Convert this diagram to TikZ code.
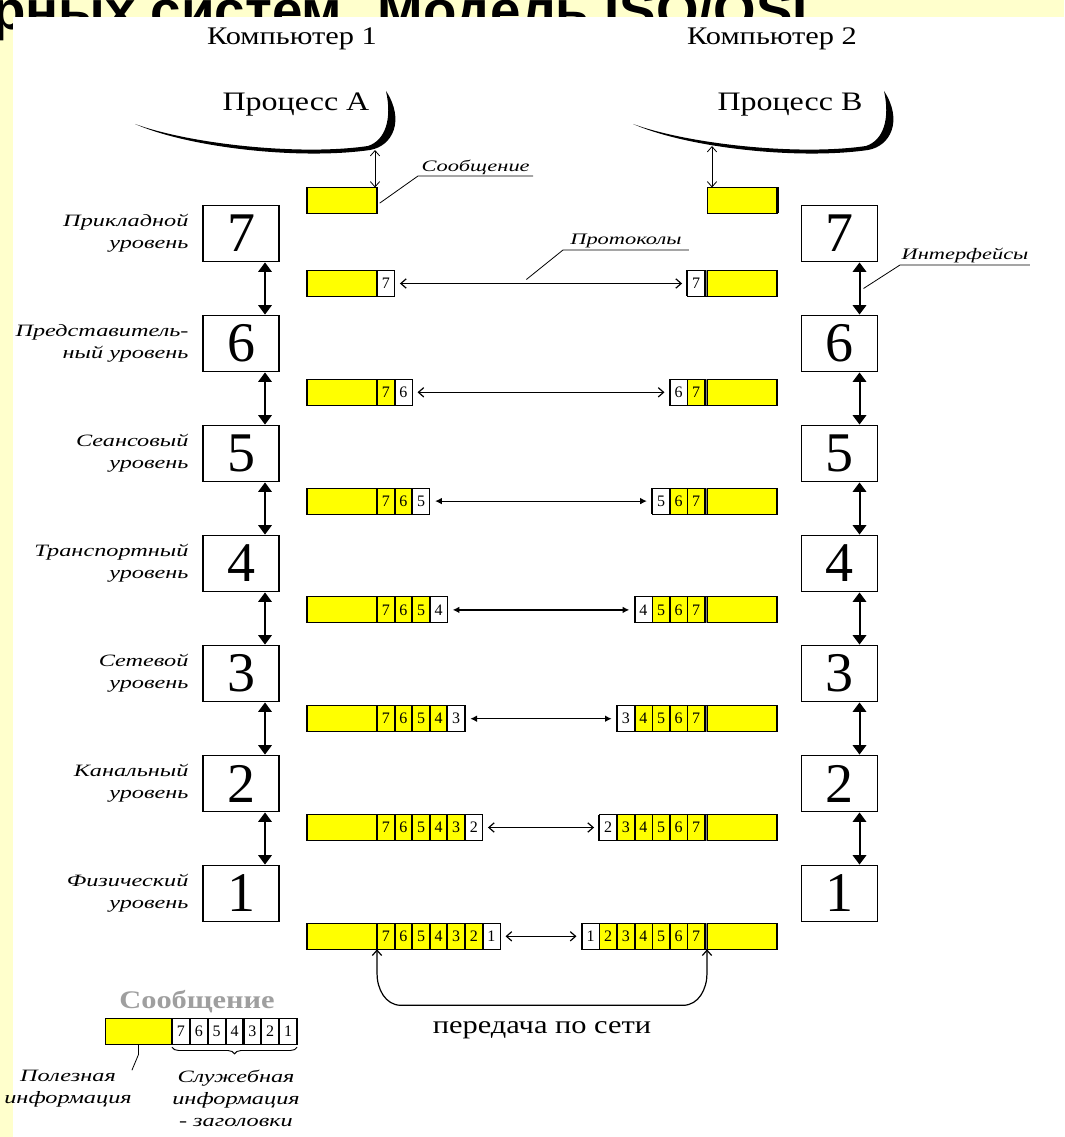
\documentclass[tikz,border=0pt]{standalone}
\usepackage{fontspec}
\setmainfont{Liberation Serif}
\newfontfamily\widefont[FakeStretch=1.2]{Liberation Serif}
\newfontfamily\notefont[FakeStretch=1.4]{Liberation Serif}
\newfontfamily\titlefont{Liberation Sans}
\usetikzlibrary{positioning,arrows.meta,calc,decorations.pathreplacing}
\definecolor{paleyellow}{HTML}{FFFFCC}
\definecolor{payload}{HTML}{FFFF00}

\begin{document}
\begin{tikzpicture}[
  x=0.75pt, y=-0.75pt,
  level/.style={draw, line width=1.4pt, minimum width=57pt, minimum height=42pt,
    inner sep=0pt, font=\fontsize{42}{42}\selectfont},
  lvlname/.style={align=right, inner sep=0pt,
    font=\notefont\itshape\fontsize{13}{16.5}\selectfont},
  data/.style={draw, fill=payload, line width=0.8pt, minimum width=52.5pt,
    minimum height=19.5pt, inner sep=0pt, outer sep=0pt},
  hdr/.style={draw, line width=0.8pt, minimum width=13.2pt, minimum height=19.5pt,
    inner sep=0pt, outer sep=0pt, font=\fontsize{12}{12}\selectfont},
  iface/.style={{Triangle[width=10pt,length=7pt]}-{Triangle[width=10pt,length=7pt]},
    line width=1.5pt},
  proto/.style={{Straight Barb[length=4pt,width=7pt]}-{Straight Barb[length=4pt,width=7pt]},
    line width=0.9pt},
  protofill/.style={{Latex[length=5pt,width=5pt]}-{Latex[length=5pt,width=5pt]},
    line width=0.9pt},
  leader/.style={line width=0.6pt},
  callout/.style={font=\notefont\itshape\fontsize{12}{12}\selectfont, inner sep=1pt,
    minimum width=#1, anchor=south west},
]
  \useasboundingbox (0,0) rectangle (1064,1137);
  % background page and the cut-off slide title
  \fill[paleyellow] (0,0) rectangle (1064,1137);
  \node[anchor=base west, inner sep=0pt,
    font=\titlefont\bfseries\fontsize{41}{41}\selectfont] (title) at (-8,30)
    {рных систем. Модель ISO/OSI};
  \fill[white] (13,17) rectangle (1064,1137);

  % computers and processes
  \node[font=\widefont\fontsize{19}{19}\selectfont] (comp1) at (292,39) {Компьютер 1};
  \node[font=\widefont\fontsize{19}{19}\selectfont] (comp2) at (772,39) {Компьютер 2};
  \node[font=\widefont\fontsize{20}{20}\selectfont] (pa) at (296,105) {Процесс A};
  \node[font=\widefont\fontsize{20}{20}\selectfont] (pb) at (790,105) {Процесс B};
  \foreach \s in {0,498} {
    \begin{scope}[shift={(\s,0)}]
      \fill (135,124) .. controls (190,148) and (300,160) .. (370,150)
        .. controls (393,146) and (405,120) .. (386,91)
        .. controls (392,118) and (386,140) .. (368,146)
        .. controls (300,156) and (190,144) .. cycle;
    \end{scope}
  }
  \coordinate (ca) at (375,150);
  \coordinate (cb) at (712,146);

  % layers of both computers
  \foreach \n/\txt in {7/{Прикладной\\уровень}, 6/{Представитель-\\ный уровень},
      5/{Сеансовый\\уровень}, 4/{Транспортный\\уровень}, 3/{Сетевой\\уровень},
      2/{Канальный\\уровень}, 1/{Физический\\уровень}} {
    \pgfmathsetmacro\yb{233.5+110*(7-\n)}
    \node[level] (L-\n) at (241,\yb) {\n};
    \node[level] (R-\n) at (839.5,\yb) {\n};
    \node[lvlname, left=10pt of L-\n] (N-\n) {\txt};
  }
  \foreach \n [evaluate=\n as \m using int(\n-1)] in {7,...,2} {
    \draw[iface] ([xshift=18pt]L-\n.south) -- ([xshift=18pt]L-\m.north);
    \draw[iface] ([xshift=15pt]R-\n.south) -- ([xshift=15pt]R-\m.north);
  }

  % message handed down by the process
  \node[data] (ma) at (342,200.5) {};
  \node[data] (mb) at (742.5,200.5) {};
  \draw[line width=1.8pt] (ma.north east) -- (ma.south east);
  \draw[line width=1.8pt] (mb.north east) -- (mb.south east);
  \draw[proto, line width=0.6pt] (ca) -- (ca |- ma.north);
  \draw[proto, line width=0.6pt] (cb) -- (cb |- mb.north);

  % frames with headers on each level
  \foreach \n in {7,...,1} {
    \pgfmathsetmacro\yr{283.5+108.8*(7-\n)}
    \node[data, anchor=east] (dl-\n) at (377,\yr) {};
    \node[data, anchor=west] (dr-\n) at (707,\yr) {};
    \foreach \k in {7,...,\n} {
      \ifnum\k=\n \def\cf{white}\else \def\cf{payload}\fi
      \node[hdr, fill=\cf, anchor=west] (hl-\n-\k) at ({377+17.6*(7-\k)},\yr) {\k};
      \node[hdr, fill=\cf, anchor=east] (hr-\n-\k) at ({705-17.6*(7-\k)},\yr) {\k};
      \draw[line width=1.6pt] (hl-\n-\k.north west) -- (hl-\n-\k.south west);
      \draw[line width=1.6pt] (hr-\n-\k.north west) -- (hr-\n-\k.south west);
    }
    \draw[gray, line width=0.5pt] (hr-\n-7.east) ++(1.5,-13) -- ++(0,26);
    \ifnum\n>2 \ifnum\n<6 \def\ps{protofill}\else \def\ps{proto}\fi
    \else \def\ps{proto}\fi
    \draw[\ps, shorten <=4pt, shorten >=4pt] (hl-\n-\n.east) -- (hr-\n-\n.west);
  }

  % callouts
  \node[callout=86pt] (msg-lbl) at (418,176) {Сообщение};
  \draw[leader] ([xshift=2pt,yshift=-2pt]ma.east) -- (msg-lbl.south west)
    -- (msg-lbl.south east);
  \node[callout=94pt] (proto-lbl) at (563,250) {Протоколы};
  \draw[leader] ($(hl-7-7.east)!0.45!(hr-7-7.west)+(0,3pt)$) -- (proto-lbl.south west)
    -- (proto-lbl.south east);
  \node[callout=92pt] (if-lbl) at (900,265) {Интерфейсы};
  \draw[leader] ($(R-7.south)!0.5!(R-6.north)+(18pt,0)$) -- (if-lbl.south west)
    -- (if-lbl.south east);

  % physical transfer
  \draw[proto] (hl-1-7.south west) -- ++(0,24) to[out=-90,in=180] ++(24,32)
    -- ++(282,0) to[out=0,in=-90] ++(24,-32) -- (dr-1.south west);
  \node[font=\widefont\fontsize{19}{19}\selectfont] (net) at (542,1030)
    {передача по сети};

  % legend
  \node[font=\widefont\bfseries\fontsize{19}{19}\selectfont, text=gray!75]
    (lg-title) at (197,1002) {Сообщение};
  \node[data, minimum width=50pt] (lg-pl) at (138.5,1031.5) {};
  \foreach \k in {7,...,1} {
    \node[hdr, fill=white, anchor=west, minimum width=13.4pt] (lg-\k)
      at ({172+17.86*(7-\k)},1031.5) {\k};
    \draw[line width=1.6pt] (lg-\k.north west) -- (lg-\k.south west);
  }
  \draw[decorate, decoration={brace, mirror, amplitude=5pt}, line width=0.7pt]
    ([yshift=-2pt]lg-7.south west) -- ([yshift=-2pt]lg-1.south east);
  \node[lvlname, align=center] (lg-srv) at (236,1098)
    {Служебная\\информация\\- заголовки};
  \node[lvlname, align=center] (lg-use) at (68,1089) {Полезная\\информация};
  \draw[leader] (lg-pl.south) -- ++(0,10) -- (lg-use.north east);
\end{tikzpicture}
\end{document}
